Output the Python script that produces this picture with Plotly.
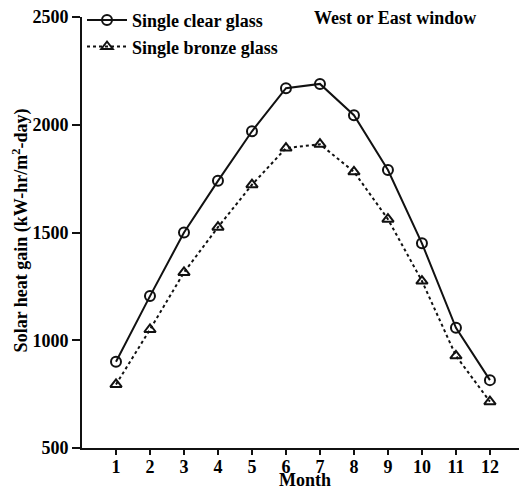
import plotly.graph_objects as go

months = [1, 2, 3, 4, 5, 6, 7, 8, 9, 10, 11, 12]
clear_glass = [900, 1205, 1500, 1740, 1970, 2170, 2190, 2045, 1790, 1450, 1058, 815]
bronze_glass = [795, 1050, 1315, 1525, 1722, 1892, 1910, 1782, 1562, 1275, 928, 715]
x_tick_vals = [1, 2, 3, 4, 5, 6, 7, 8, 9, 10, 11, 12, 13]
x_tick_text = ["1", "2", "3", "4", "5", "6", "7", "8", "9", "10", "11", "12", ""]
y_tick_vals = [500, 1000, 1500, 2000, 2500]

font_family = "Liberation Serif"
big = dict(family=font_family, size=18, color="black", weight="bold")

fig = go.Figure()
fig.add_trace(go.Scatter(
    x=months, y=clear_glass, name="Single clear glass", mode="lines+markers",
    legendgroup="a",
    line=dict(color="#111111", width=2),
    marker=dict(symbol="circle-open", size=10, color="#111111", line=dict(width=2)),
))
fig.add_trace(go.Scatter(
    x=months, y=bronze_glass, name="Single bronze glass", mode="lines+markers",
    legendgroup="b",
    line=dict(color="#111111", width=2, dash="dot"),
    marker=dict(symbol="triangle-up-open", size=10, color="#111111", line=dict(width=2)),
))

fig.add_annotation(
    x=0.517, y=0.998, xref="paper", yref="paper", xanchor="left", yanchor="middle",
    text="West or East window", showarrow=False, font=big,
)
fig.add_annotation(
    x=0.5, y=-0.074, xref="paper", yref="paper", xanchor="center", yanchor="middle",
    text="Month", showarrow=False, font=big,
)
fig.add_annotation(
    x=-0.137, y=0.505, xref="paper", yref="paper", xanchor="center", yanchor="middle",
    text="Solar heat gain (kW-hr/m<sup>2</sup>-day)", textangle=-90, showarrow=False,
    font=big,
)

fig.update_layout(
    width=519, height=482,
    margin=dict(l=74, r=0, t=9, b=42, autoexpand=False),
    paper_bgcolor="white", plot_bgcolor="white",
    font=big,
    showlegend=True,
    legend=dict(x=0.0, y=1.035, xanchor="left", yanchor="top",
                bgcolor="rgba(0,0,0,0)", tracegroupgap=0, itemwidth=40,
                font=big),
    xaxis=dict(
        range=[0, 13.09], tickvals=x_tick_vals, ticktext=x_tick_text,
        showgrid=False, zeroline=False, showline=True, linecolor="#111111", linewidth=2,
        ticks="outside", ticklen=5, tickwidth=2, tickcolor="#111111",
        tickfont=big, ticklabelstandoff=-4, ticklabeloverflow="allow",
    ),
    yaxis=dict(
        range=[500, 2500.5], tickvals=y_tick_vals,
        showgrid=False, zeroline=False, showline=True, linecolor="#111111", linewidth=2,
        ticks="outside", ticklen=8, tickwidth=2, tickcolor="#111111",
        tickfont=big, ticklabeloverflow="allow",
    ),
)

fig.write_html("out.html")
